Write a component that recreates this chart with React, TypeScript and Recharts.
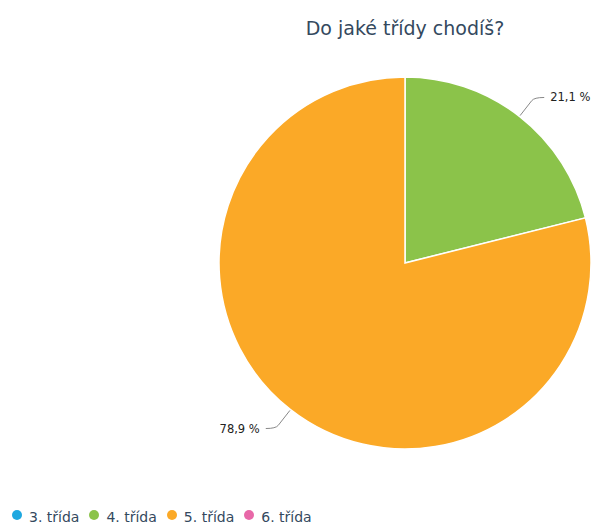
import { Legend, Pie, PieChart, Cell } from 'recharts';

const CATEGORIES = ['3. třída', '4. třída', '5. třída', '6. třída'];
const SHARES = [0, 21.1, 78.9, 0];
const COLORS = ['#1ea8e0', '#8bc34a', '#fba927', '#e868a8'];

const FONT = '"DejaVu Sans", Verdana, sans-serif';
const RAD = Math.PI / 180;

const data = CATEGORIES.map((name, i) => ({ name, value: SHARES[i], color: COLORS[i] }));

const formatPct = (v: number) => `${v.toFixed(1).replace('.', ',')} %`;

function renderLabel(props: any) {
  const { cx, cy, midAngle, outerRadius, value } = props;
  if (!value) return null;
  const cos = Math.cos(-midAngle * RAD);
  const sin = Math.sin(-midAngle * RAD);
  const sx = cx + (outerRadius + 1) * cos;
  const sy = cy + (outerRadius + 1) * sin;
  const mx = cx + (outerRadius + 24) * cos;
  const my = cy + (outerRadius + 24) * sin;
  const dir = cos >= 0 ? 1 : -1;
  const ex = mx + dir * 10;
  const ey = my;
  const qx = cx + (outerRadius + 20) * cos;
  const qy = cy + (outerRadius + 20) * sin;
  return (
    <g>
      <path
        d={`M${sx},${sy} L${qx},${qy} Q${mx},${my} ${ex},${ey}`}
        stroke="#888"
        strokeWidth={1}
        fill="none"
      />
      <text
        x={ex + dir * 6}
        y={ey}
        textAnchor={dir > 0 ? 'start' : 'end'}
        dominantBaseline="central"
        fill="#222"
        fontSize={11.5}
        fontFamily={FONT}
      >
        {formatPct(value)}
      </text>
    </g>
  );
}

function LegendContent() {
  return (
    <div style={{ display: 'flex', gap: 10, fontFamily: FONT, fontSize: 14, color: '#34495e' }}>
      {data.map((d) => (
        <div key={d.name} style={{ display: 'flex', alignItems: 'center', gap: 7 }}>
          <span style={{ width: 10, height: 10, borderRadius: '50%', background: d.color, display: 'inline-block', marginTop: -4 }} />
          <span>{d.name}</span>
        </div>
      ))}
    </div>
  );
}

export default function App() {
  return (
    <div style={{ position: 'absolute', left: 0, top: 0, width: 594, height: 527, background: '#fff' }}>
      <div
        style={{
          position: 'absolute',
          left: 205,
          width: 400,
          top: 17,
          textAlign: 'center',
          fontFamily: FONT,
          fontSize: 19,
          color: '#34495e',
        }}
      >
        Do jaké třídy chodíš?
      </div>
      <PieChart width={594} height={527} margin={{ top: 0, right: 0, bottom: 0, left: 0 }}>
        <Pie
          data={data}
          dataKey="value"
          nameKey="name"
          cx={405}
          cy={263}
          outerRadius={186}
          startAngle={90}
          endAngle={-270}
          stroke="#fff"
          strokeWidth={1.5}
          label={renderLabel}
          labelLine={false}
          isAnimationActive={false}
        >
          {data.map((d) => (
            <Cell key={d.name} fill={d.color} />
          ))}
        </Pie>
        <Legend
          content={<LegendContent />}
          wrapperStyle={{ position: 'absolute', left: 12, top: 509, width: 440, bottom: 'auto' }}
        />
      </PieChart>
    </div>
  );
}
